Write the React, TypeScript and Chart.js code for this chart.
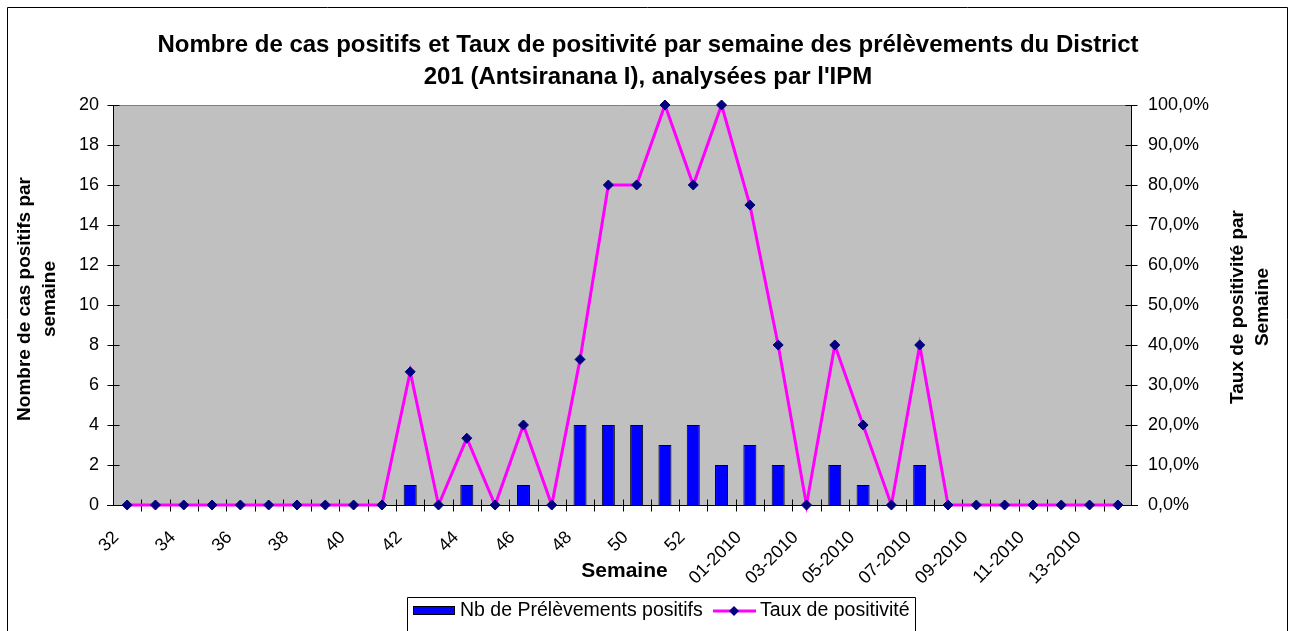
import React, { useEffect, useRef } from 'react';
import { Chart, registerables } from 'chart.js';

Chart.register(...registerables);

const weeks: string[] = [
  '32', '33', '34', '35', '36', '37', '38', '39', '40', '41', '42', '43', '44', '45', '46', '47',
  '48', '49', '50', '51', '52', '53',
  '01-2010', '02-2010', '03-2010', '04-2010', '05-2010', '06-2010', '07-2010', '08-2010',
  '09-2010', '10-2010', '11-2010', '12-2010', '13-2010', '14-2010',
];

const positiveCounts: number[] = [
  0, 0, 0, 0, 0, 0, 0, 0, 0, 0, 1, 0, 1, 0, 1, 0,
  4, 4, 4, 3, 4, 2,
  3, 2, 0, 2, 1, 0, 2, 0,
  0, 0, 0, 0, 0, 0,
];

const positivityRate: number[] = [
  0, 0, 0, 0, 0, 0, 0, 0, 0, 0, 33.3, 0, 16.7, 0, 20, 0,
  36.4, 80, 80, 100, 80, 100,
  75, 40, 0, 40, 20, 0, 40, 0,
  0, 0, 0, 0, 0, 0,
];

const titleLines = [
  'Nombre de cas positifs et Taux de positivité par semaine des prélèvements du District',
  "201 (Antsiranana I), analysées par l'IPM",
];
const leftTitleLines = ['Nombre de cas positifs par', 'semaine'];
const rightTitleLines = ['Taux de positivité par', 'Semaine'];
const xTitle = 'Semaine';
const barLabel = 'Nb de Prélèvements positifs';
const lineLabel = 'Taux de positivité';

const FONT = '"Liberation Sans", Arial, Helvetica, sans-serif';
const W = 1296;
const H = 631;

const decorPlugin = {
  id: 'excelDecor',
  beforeDraw(chart: any) {
    const { ctx, chartArea: a } = chart;
    ctx.save();
    ctx.fillStyle = '#FFFFFF';
    ctx.fillRect(0, 0, W, H);
    ctx.fillStyle = '#C0C0C0';
    ctx.fillRect(a.left, a.top, a.right - a.left, a.bottom - a.top);
    ctx.strokeStyle = '#808080';
    ctx.lineWidth = 1;
    ctx.beginPath();
    ctx.moveTo(a.left, Math.round(a.top) + 0.5);
    ctx.lineTo(a.right, Math.round(a.top) + 0.5);
    ctx.stroke();
    // outer chart border
    ctx.strokeStyle = '#000000';
    ctx.beginPath();
    ctx.moveTo(7.5, H + 10);
    ctx.lineTo(7.5, 7.5);
    ctx.lineTo(1287.5, 7.5);
    ctx.lineTo(1287.5, H + 10);
    ctx.stroke();
    ctx.restore();
  },
  beforeDatasetsDraw(chart: any) {
    const { ctx, chartArea: a, scales } = chart;
    ctx.save();
    ctx.strokeStyle = '#000000';
    ctx.lineWidth = 1;
    const L = Math.round(a.left) + 0.5;
    const R = Math.round(a.right) - 0.5;
    const B = Math.round(a.bottom) + 0.5;
    ctx.beginPath();
    ctx.moveTo(L, a.top);
    ctx.lineTo(L, B);
    ctx.moveTo(R, a.top);
    ctx.lineTo(R, B);
    ctx.moveTo(a.left - 6, B);
    ctx.lineTo(a.right + 6, B);
    scales.y.ticks.forEach((t: any) => {
      const y = Math.round(scales.y.getPixelForValue(t.value)) + 0.5;
      ctx.moveTo(L - 6, y);
      ctx.lineTo(L + 6, y);
    });
    scales.y1.ticks.forEach((t: any) => {
      const y = Math.round(scales.y1.getPixelForValue(t.value)) + 0.5;
      ctx.moveTo(R - 6, y);
      ctx.lineTo(R + 6, y);
    });
    const n = weeks.length;
    const step = (a.right - a.left) / n;
    for (let k = 1; k < n; k++) {
      const x = Math.round(a.left + k * step) + 0.5;
      ctx.moveTo(x, B - 6);
      ctx.lineTo(x, B + 6);
    }
    ctx.stroke();
    ctx.restore();
  },
  afterDraw(chart: any) {
    const { ctx, chartArea: a } = chart;
    ctx.save();
    ctx.fillStyle = '#000000';
    ctx.textAlign = 'center';
    ctx.textBaseline = 'middle';
    ctx.font = `bold 19px ${FONT}`;
    ctx.save();
    ctx.translate(25, 299);
    ctx.rotate(-Math.PI / 2);
    ctx.fillText(leftTitleLines[0], 0, 0);
    ctx.fillText(leftTitleLines[1], 0, 25);
    ctx.restore();
    ctx.save();
    ctx.translate(1238, 307);
    ctx.rotate(-Math.PI / 2);
    ctx.fillText(rightTitleLines[0], 0, 0);
    ctx.fillText(rightTitleLines[1], 0, 25);
    ctx.restore();
    ctx.font = `bold 21px ${FONT}`;
    ctx.fillText(xTitle, (a.left + a.right) / 2 + 2, 571);

    // legend
    ctx.strokeStyle = '#000000';
    ctx.lineWidth = 1;
    ctx.beginPath();
    ctx.moveTo(407.5, H + 10);
    ctx.lineTo(407.5, 597.5);
    ctx.lineTo(915.5, 597.5);
    ctx.lineTo(915.5, H + 10);
    ctx.stroke();
    ctx.fillStyle = '#0000FF';
    ctx.fillRect(413, 606, 42, 9);
    ctx.strokeRect(413.5, 606.5, 41, 8);
    ctx.font = `19.5px ${FONT}`;
    ctx.fillStyle = '#000000';
    ctx.textAlign = 'left';
    ctx.fillText(barLabel, 460, 611);
    ctx.strokeStyle = '#FF00FF';
    ctx.lineWidth = 3;
    ctx.beginPath();
    ctx.moveTo(713, 611);
    ctx.lineTo(756, 611);
    ctx.stroke();
    ctx.fillStyle = '#000080';
    ctx.beginPath();
    ctx.moveTo(734, 606);
    ctx.lineTo(739, 611);
    ctx.lineTo(734, 616);
    ctx.lineTo(729, 611);
    ctx.closePath();
    ctx.fill();
    ctx.fillStyle = '#000000';
    ctx.fillText(lineLabel, 760, 611);
    ctx.restore();
  },
};

export default function App() {
  const canvasRef = useRef<HTMLCanvasElement | null>(null);

  useEffect(() => {
    if (!canvasRef.current) return;
    Chart.defaults.font.family = FONT;
    Chart.defaults.color = '#000000';
    const chart = new Chart(canvasRef.current, {
      type: 'bar',
      data: {
        labels: weeks,
        datasets: [
          {
            type: 'line',
            label: lineLabel,
            data: positivityRate,
            yAxisID: 'y1',
            borderColor: '#FF00FF',
            backgroundColor: '#000080',
            borderWidth: 3,
            pointStyle: 'rectRot',
            pointRadius: 5,
            pointBackgroundColor: '#000080',
            pointBorderColor: '#000080',
            pointBorderWidth: 1,
            tension: 0,
            clip: false,
            order: 0,
          } as any,
          {
            type: 'bar',
            label: barLabel,
            data: positiveCounts,
            yAxisID: 'y',
            backgroundColor: '#0000FF',
            borderColor: '#000000',
            borderWidth: 1,
            categoryPercentage: 1,
            barPercentage: 0.46,
            order: 1,
          },
        ],
      },
      options: {
        responsive: false,
        animation: false,
        devicePixelRatio: 1,
        layout: { padding: 0 },
        plugins: {
          legend: { display: false },
          tooltip: { enabled: false },
          title: {
            display: true,
            text: titleLines,
            color: '#000000',
            font: { size: 24, weight: 'bold', lineHeight: 1.3333, family: FONT },
            padding: { top: 29, bottom: 12 },
          },
        },
        scales: {
          x: {
            type: 'category',
            offset: true,
            grid: { display: false, drawTicks: false },
            border: { display: false },
            ticks: {
              autoSkip: false,
              maxRotation: 45,
              minRotation: 45,
              padding: 22,
              labelOffset: -11,
              color: '#000000',
              font: { size: 18, family: FONT },
              callback: (_v: any, i: number) => (i % 2 === 0 ? weeks[i] : ''),
            },
            afterFit: (s: any) => {
              s.height = H - 505;
            },
          },
          y: {
            position: 'left',
            min: 0,
            max: 20,
            grid: { display: false, drawTicks: false },
            border: { display: false },
            ticks: {
              stepSize: 2,
              padding: 14,
              color: '#000000',
              font: { size: 18, family: FONT },
            },
            afterFit: (s: any) => {
              s.width = 113;
            },
          },
          y1: {
            position: 'right',
            min: 0,
            max: 100,
            grid: { display: false, drawTicks: false },
            border: { display: false },
            ticks: {
              stepSize: 10,
              padding: 16,
              color: '#000000',
              font: { size: 18, family: FONT },
              callback: (v: any) => Number(v).toFixed(1).replace('.', ',') + '%',
            },
            afterFit: (s: any) => {
              s.width = W - 1132;
            },
          },
        },
      },
      plugins: [decorPlugin],
    });
    return () => chart.destroy();
  }, []);

  return (
    <div style={{ position: 'absolute', left: 0, top: 0, width: W, height: H, overflow: 'hidden', background: '#fff' }}>
      <canvas ref={canvasRef} width={W} height={H} style={{ display: 'block', width: W, height: H }} />
    </div>
  );
}
